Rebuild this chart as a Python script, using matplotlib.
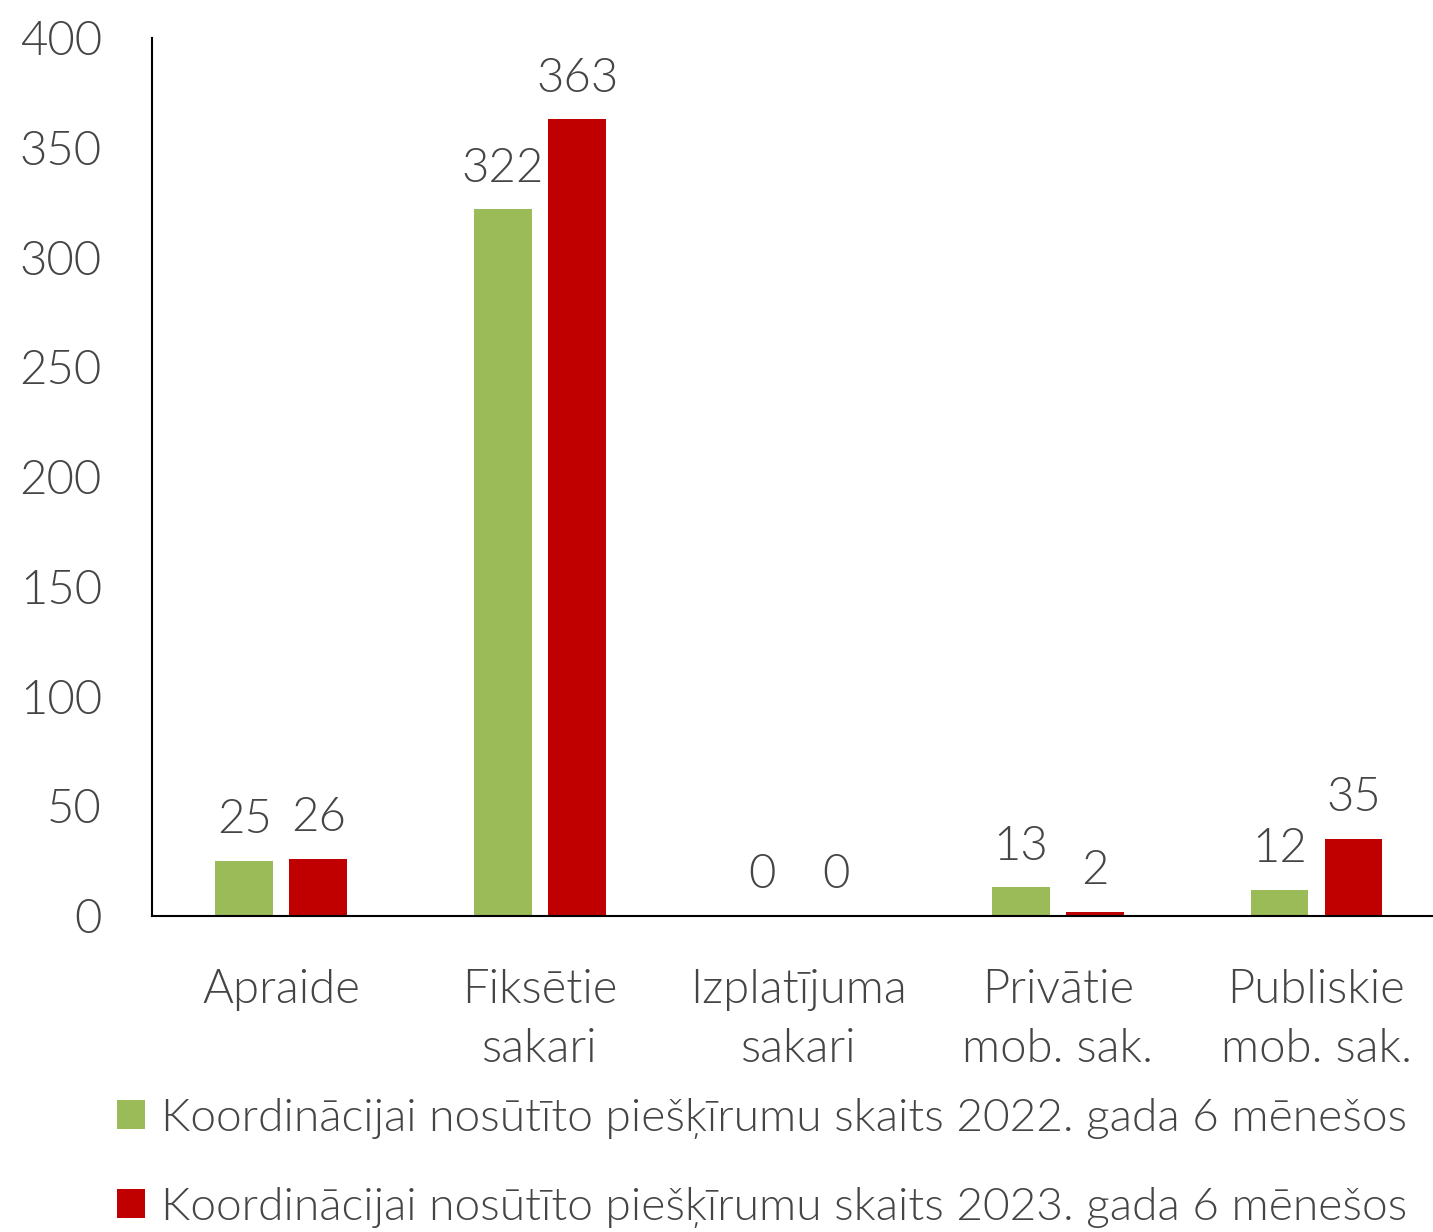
import matplotlib.pyplot as plt
import numpy as np

categories = ["Apraide", "Fiksētie\nsakari", "Izplatījuma\nsakari", "Privātie\nmob. sak.", "Publiskie\nmob. sak."]
values_2022 = [25, 322, 0, 13, 12]
values_2023 = [26, 363, 0, 2, 35]
series_labels = [
    "Koordinācijai nosūtīto piešķīrumu skaits 2022. gada 6 mēnešos",
    "Koordinācijai nosūtīto piešķīrumu skaits 2023. gada 6 mēnešos",
]

GREEN = "#9BBB59"
RED = "#C00000"
TEXT = "#454545"

plt.rcParams.update({
    "font.family": ["Lato", "DejaVu Sans"],
    "font.weight": 300,
    "font.size": 34,
    "text.color": TEXT,
    "xtick.color": TEXT,
    "ytick.color": TEXT,
})

fig = plt.figure(figsize=(14.33, 12.32), dpi=100)
ax = fig.add_axes([0.106, 0.2565, 0.903, 0.7125])

x = np.arange(len(categories))
width = 0.224
off = 0.143
b1 = ax.bar(x - off, values_2022, width, color=GREEN, label=series_labels[0])
b2 = ax.bar(x + off, values_2023, width, color=RED, label=series_labels[1])

for bars, vals in ((b1, values_2022), (b2, values_2023)):
    for bar, v in zip(bars, vals):
        ax.text(bar.get_x() + bar.get_width() / 2, v + 9, f"{v}",
                ha="center", va="bottom", fontsize=34, color=TEXT)

ax.set_xlim(-0.5, len(categories) - 0.5)
ax.set_ylim(0, 400)
ax.set_yticks(range(0, 401, 50))
ax.set_xticks(x)
ax.set_xticklabels(categories, linespacing=1.5)
ax.tick_params(axis="both", length=0, labelsize=34)
ax.tick_params(axis="x", pad=38)
ax.tick_params(axis="y", pad=36)

for s in ("top", "right"):
    ax.spines[s].set_visible(False)
ax.spines["left"].set_color("black")
ax.spines["bottom"].set_color("black")
ax.spines["left"].set_linewidth(1.5)
ax.spines["bottom"].set_linewidth(1.5)

fig.legend(handles=[b1, b2], loc="upper left", bbox_to_anchor=(0.069, 0.124),
           frameon=False, fontsize=33.2, handlelength=0.6, handleheight=0.6,
           handletextpad=0.35, labelspacing=1.05, borderaxespad=0)

fig.savefig("out.png", dpi=100)
